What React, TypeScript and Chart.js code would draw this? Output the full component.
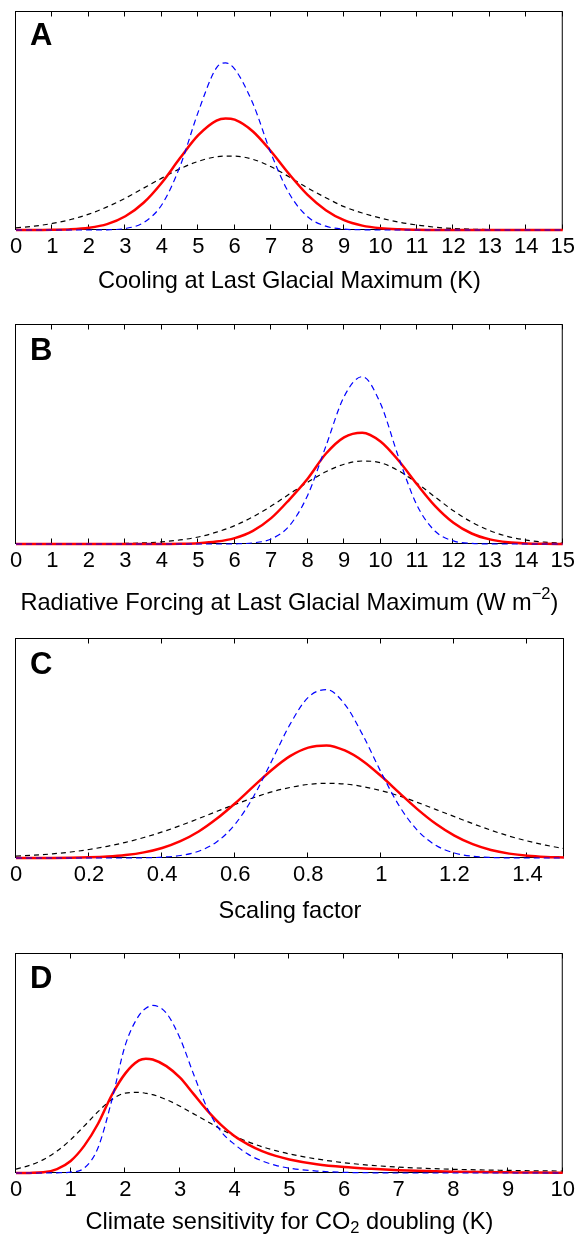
import React, { useEffect, useRef } from "react";
import { Chart, registerables } from "chart.js";
Chart.register(...registerables);

const FONT = '"Liberation Sans", Arial, Helvetica, sans-serif';

// ---------- Panel A: Cooling at LGM (K) ----------
const xA = [0, 0.5, 1, 1.5, 2, 2.5, 3, 3.5, 4, 4.5, 5, 5.5, 5.75, 6, 6.5, 7, 7.5, 8, 8.5, 9, 9.5, 10, 10.5, 11, 11.5, 12, 12.5, 13, 13.5, 14, 14.5, 15];
const blueA = [0, 0, 0, 0, 0, 0.001, 0.007, 0.034, 0.116, 0.292, 0.542, 0.744, 0.767, 0.738, 0.58, 0.35, 0.166, 0.061, 0.0175, 0.004, 0.001, 0, 0, 0, 0, 0, 0, 0, 0, 0, 0, 0];
const redA = [0, 0, 0.001, 0.0034, 0.0105, 0.027, 0.063, 0.125, 0.217, 0.33, 0.435, 0.502, 0.512, 0.506, 0.452, 0.36, 0.255, 0.161, 0.091, 0.045, 0.02, 0.008, 0.003, 0.001, 0, 0, 0, 0, 0, 0, 0, 0];
const blackA = [0.0099, 0.0176, 0.03, 0.048, 0.073, 0.106, 0.146, 0.192, 0.238, 0.281, 0.315, 0.336, 0.339, 0.339, 0.324, 0.29, 0.243, 0.193, 0.148, 0.107, 0.078, 0.055, 0.036, 0.023, 0.0128, 0.007, 0.0036, 0.002, 0.001, 0.0005, 0.0002, 0.0001];
const ticksA = [0, 1, 2, 3, 4, 5, 6, 7, 8, 9, 10, 11, 12, 13, 14, 15];
const tickLabelsA = ["0", "1", "2", "3", "4", "5", "6", "7", "8", "9", "10", "11", "12", "13", "14", "15"];

// ---------- Panel B: Radiative forcing at LGM (W m-2) ----------
const xB = [0, 0.5, 1, 1.5, 2, 2.5, 3, 3.5, 4, 4.5, 5, 5.5, 6, 6.5, 7, 7.5, 8, 8.5, 9, 9.5, 10, 10.5, 11, 11.5, 12, 12.5, 13, 13.5, 14, 14.5, 15];
const blueB = [0, 0, 0, 0, 0, 0, 0, 0, 0, 0, 0, 0, 0.0008, 0.005, 0.023, 0.083, 0.222, 0.446, 0.673, 0.764, 0.641, 0.394, 0.177, 0.058, 0.014, 0.0025, 0.0003, 0, 0, 0, 0];
const redB = [0, 0, 0, 0, 0, 0, 0, 0, 0.0003, 0.0012, 0.0039, 0.011, 0.027, 0.06, 0.118, 0.203, 0.298, 0.412, 0.487, 0.508, 0.468, 0.38, 0.273, 0.173, 0.097, 0.048, 0.021, 0.008, 0.0027, 0.001, 0.0003];
const blackB = [0, 0, 0, 0, 0.0004, 0.001, 0.0024, 0.005, 0.0099, 0.0185, 0.032, 0.054, 0.084, 0.124, 0.173, 0.228, 0.282, 0.33, 0.364, 0.379, 0.371, 0.334, 0.278, 0.214, 0.152, 0.1, 0.061, 0.034, 0.018, 0.0084, 0.0037];
const ticksB = [0, 1, 2, 3, 4, 5, 6, 7, 8, 9, 10, 11, 12, 13, 14, 15];
const tickLabelsB = ["0", "1", "2", "3", "4", "5", "6", "7", "8", "9", "10", "11", "12", "13", "14", "15"];

// ---------- Panel C: Scaling factor ----------
const xC = [0, 0.05, 0.1, 0.15, 0.2, 0.25, 0.3, 0.35, 0.4, 0.45, 0.5, 0.55, 0.6, 0.65, 0.7, 0.75, 0.8, 0.85, 0.9, 0.95, 1.0, 1.05, 1.1, 1.15, 1.2, 1.25, 1.3, 1.35, 1.4, 1.45, 1.5];
const blueC = [0, 0, 0, 0, 0, 0, 0, 0.001, 0.0037, 0.0114, 0.031, 0.074, 0.155, 0.28, 0.443, 0.61, 0.734, 0.769, 0.702, 0.559, 0.389, 0.235, 0.124, 0.057, 0.023, 0.008, 0.0024, 0.0006, 0, 0, 0];
const redC = [0.0001, 0.0002, 0.0005, 0.0013, 0.0031, 0.0066, 0.0134, 0.0256, 0.0457, 0.0768, 0.121, 0.18, 0.25, 0.327, 0.402, 0.465, 0.504, 0.514, 0.491, 0.442, 0.373, 0.296, 0.221, 0.155, 0.102, 0.063, 0.0365, 0.02, 0.0102, 0.0049, 0.0022];
const blackC = [0.0084, 0.0128, 0.019, 0.0275, 0.0389, 0.0534, 0.0715, 0.0935, 0.119, 0.148, 0.18, 0.213, 0.245, 0.275, 0.302, 0.322, 0.336, 0.341, 0.338, 0.326, 0.307, 0.283, 0.253, 0.221, 0.189, 0.157, 0.127, 0.1, 0.0776, 0.0585, 0.043];
const ticksC = [0, 0.2, 0.4, 0.6, 0.8, 1, 1.2, 1.4];
const tickLabelsC = ["0", "0.2", "0.4", "0.6", "0.8", "1", "1.2", "1.4"];

// ---------- Panel D: Climate sensitivity (K) ----------
const xD = [0, 0.25, 0.5, 0.75, 1, 1.25, 1.5, 1.75, 2, 2.25, 2.375, 2.5, 2.75, 3, 3.25, 3.5, 3.75, 4, 4.25, 4.5, 4.75, 5, 5.5, 6, 6.5, 7, 7.5, 8, 8.5, 9, 9.5, 10];
const blueD = [0, 0, 0, 0.001, 0.004, 0.023, 0.115, 0.33, 0.585, 0.72, 0.752, 0.765, 0.73, 0.615, 0.45, 0.295, 0.19, 0.13, 0.085, 0.055, 0.035, 0.022, 0.009, 0.003, 0.001, 0, 0, 0, 0, 0, 0, 0];
const redD = [0, 0.0005, 0.003, 0.018, 0.055, 0.125, 0.225, 0.355, 0.455, 0.514, 0.522, 0.518, 0.488, 0.435, 0.36, 0.285, 0.22, 0.168, 0.13, 0.1, 0.078, 0.062, 0.04, 0.027, 0.019, 0.013, 0.009, 0.006, 0.004, 0.003, 0.002, 0.0015];
const blackD = [0.018, 0.035, 0.061, 0.1, 0.152, 0.215, 0.28, 0.335, 0.365, 0.368, 0.364, 0.358, 0.335, 0.305, 0.27, 0.235, 0.2, 0.168, 0.142, 0.12, 0.102, 0.087, 0.064, 0.047, 0.035, 0.027, 0.021, 0.017, 0.014, 0.012, 0.01, 0.009];
const ticksD = [0, 1, 2, 3, 4, 5, 6, 7, 8, 9, 10];
const tickLabelsD = ["0", "1", "2", "3", "4", "5", "6", "7", "8", "9", "10"];

type Seg = { t: string; s?: "sup" | "sub" };
const titleA: Seg[] = [{ t: "Cooling at Last Glacial Maximum (K)" }];
const titleB: Seg[] = [{ t: "Radiative Forcing at Last Glacial Maximum (W m" }, { t: "\u22122", s: "sup" }, { t: ")" }];
const titleC: Seg[] = [{ t: "Scaling factor" }];
const titleD: Seg[] = [{ t: "Climate sensitivity for CO" }, { t: "2", s: "sub" }, { t: " doubling (K)" }];

const PANELS = [
  { letter: "A", xs: xA, blue: blueA, red: redA, black: blackA, ticks: ticksA, labels: tickLabelsA, title: titleA, min: 0, max: 15, top: 0, height: 300, boxTop: 12, boxBottom: 230, titleY: 288, letterDy: 33 },
  { letter: "B", xs: xB, blue: blueB, red: redB, black: blackB, ticks: ticksB, labels: tickLabelsB, title: titleB, min: 0, max: 15, top: 300, height: 320, boxTop: 325, boxBottom: 544, titleY: 610, letterDy: 35 },
  { letter: "C", xs: xC, blue: blueC, red: redC, black: blackC, ticks: ticksC, labels: tickLabelsC, title: titleC, min: 0, max: 1.5, top: 620, height: 310, boxTop: 639, boxBottom: 858, titleY: 918, letterDy: 35 },
  { letter: "D", xs: xD, blue: blueD, red: redD, black: blackD, ticks: ticksD, labels: tickLabelsD, title: titleD, min: 0, max: 10, top: 930, height: 304, boxTop: 954, boxBottom: 1173, titleY: 1229, letterDy: 34 },
];

type Panel = typeof PANELS[number];

function makePlugin(p: Panel) {
  return {
    id: "matlabFrame" + p.letter,
    beforeDatasetsDraw(chart: any) {
      const { ctx, chartArea } = chart;
      const { left, right, top, bottom } = chartArea;
      const xs = chart.scales.x;
      ctx.save();
      ctx.strokeStyle = "#000";
      ctx.lineWidth = 1;
      ctx.strokeRect(left - 0.5, top - 0.5, right - left, bottom - top);
      ctx.beginPath();
      for (const v of p.ticks) {
        const px = Math.round(xs.getPixelForValue(v)) - 0.5;
        ctx.moveTo(px, bottom - 0.5);
        ctx.lineTo(px, bottom - 5.5);
        ctx.moveTo(px, top - 0.5);
        ctx.lineTo(px, top + 4.5);
      }
      ctx.stroke();
      ctx.restore();
    },
    afterDraw(chart: any) {
      const { ctx, chartArea } = chart;
      const { left, right, top } = chartArea;
      ctx.save();
      ctx.fillStyle = "#000";
      // panel letter
      ctx.font = "bold 31px " + FONT;
      ctx.textAlign = "left";
      ctx.textBaseline = "alphabetic";
      ctx.fillText(p.letter, 30, top + p.letterDy);
      // axis title with sub/superscripts
      const mainFont = "23.6px " + FONT;
      const smallFont = "16.5px " + FONT;
      let total = 0;
      const widths = p.title.map((s) => {
        ctx.font = s.s ? smallFont : mainFont;
        const w = ctx.measureText(s.t).width;
        total += w;
        return w;
      });
      let x = (left + right) / 2 - total / 2;
      const y = p.titleY - p.top;
      p.title.forEach((s, i) => {
        ctx.font = s.s ? smallFont : mainFont;
        const dy = s.s === "sup" ? -11 : s.s === "sub" ? 4 : 0;
        ctx.fillText(s.t, x, y + dy);
        x += widths[i];
      });
      ctx.restore();
    },
  };
}

function PanelChart({ p }: { p: Panel }) {
  const ref = useRef<HTMLCanvasElement | null>(null);
  useEffect(() => {
    if (!ref.current) return;
    const pts = (arr: number[]) => p.xs.map((x, i) => ({ x, y: arr[i] }));
    const chart = new Chart(ref.current, {
      type: "line",
      data: {
        datasets: [
          { data: pts(p.black), borderColor: "#000000", borderWidth: 1.2, borderDash: [5, 4], pointRadius: 0, fill: false, cubicInterpolationMode: "monotone", clip: false, order: 3 },
          { data: pts(p.red), borderColor: "#ff0000", borderWidth: 2.5, pointRadius: 0, fill: false, cubicInterpolationMode: "monotone", clip: false, order: 2 },
          { data: pts(p.blue), borderColor: "#0000ff", borderWidth: 1.2, borderDash: [6, 4], pointRadius: 0, fill: false, cubicInterpolationMode: "monotone", clip: false, order: 1 },
        ],
      } as any,
      options: {
        animation: false,
        responsive: false,
        events: [],
        layout: { padding: { top: p.boxTop - p.top, left: 16, right: 15, bottom: 0 } },
        plugins: { legend: { display: false }, tooltip: { enabled: false }, title: { display: false } },
        scales: {
          x: {
            type: "linear",
            min: p.min,
            max: p.max,
            afterBuildTicks: (s: any) => {
              s.ticks = p.ticks.map((v) => ({ value: v }));
            },
            afterFit: (s: any) => {
              s.height = p.top + p.height - p.boxBottom;
            },
            grid: { display: false, drawTicks: false },
            border: { display: false },
            ticks: {
              autoSkip: false,
              maxRotation: 0,
              minRotation: 0,
              padding: 4,
              color: "#000",
              font: { size: 22, family: FONT },
              callback: (_v: any, i: number) => p.labels[i],
            },
          },
          y: { display: false, min: 0, max: 1 },
        },
      } as any,
      plugins: [makePlugin(p)],
    });
    return () => chart.destroy();
  }, [p]);
  return (
    <div style={{ position: "absolute", left: 0, top: p.top, width: 579, height: p.height }}>
      <canvas ref={ref} width={579} height={p.height} style={{ width: 579, height: p.height, display: "block" }} />
    </div>
  );
}

export default function App() {
  return (
    <div style={{ position: "absolute", left: 0, top: 0, width: 579, height: 1234, background: "#fff", overflow: "hidden" }}>
      {PANELS.map((p) => (
        <PanelChart key={p.letter} p={p} />
      ))}
    </div>
  );
}
